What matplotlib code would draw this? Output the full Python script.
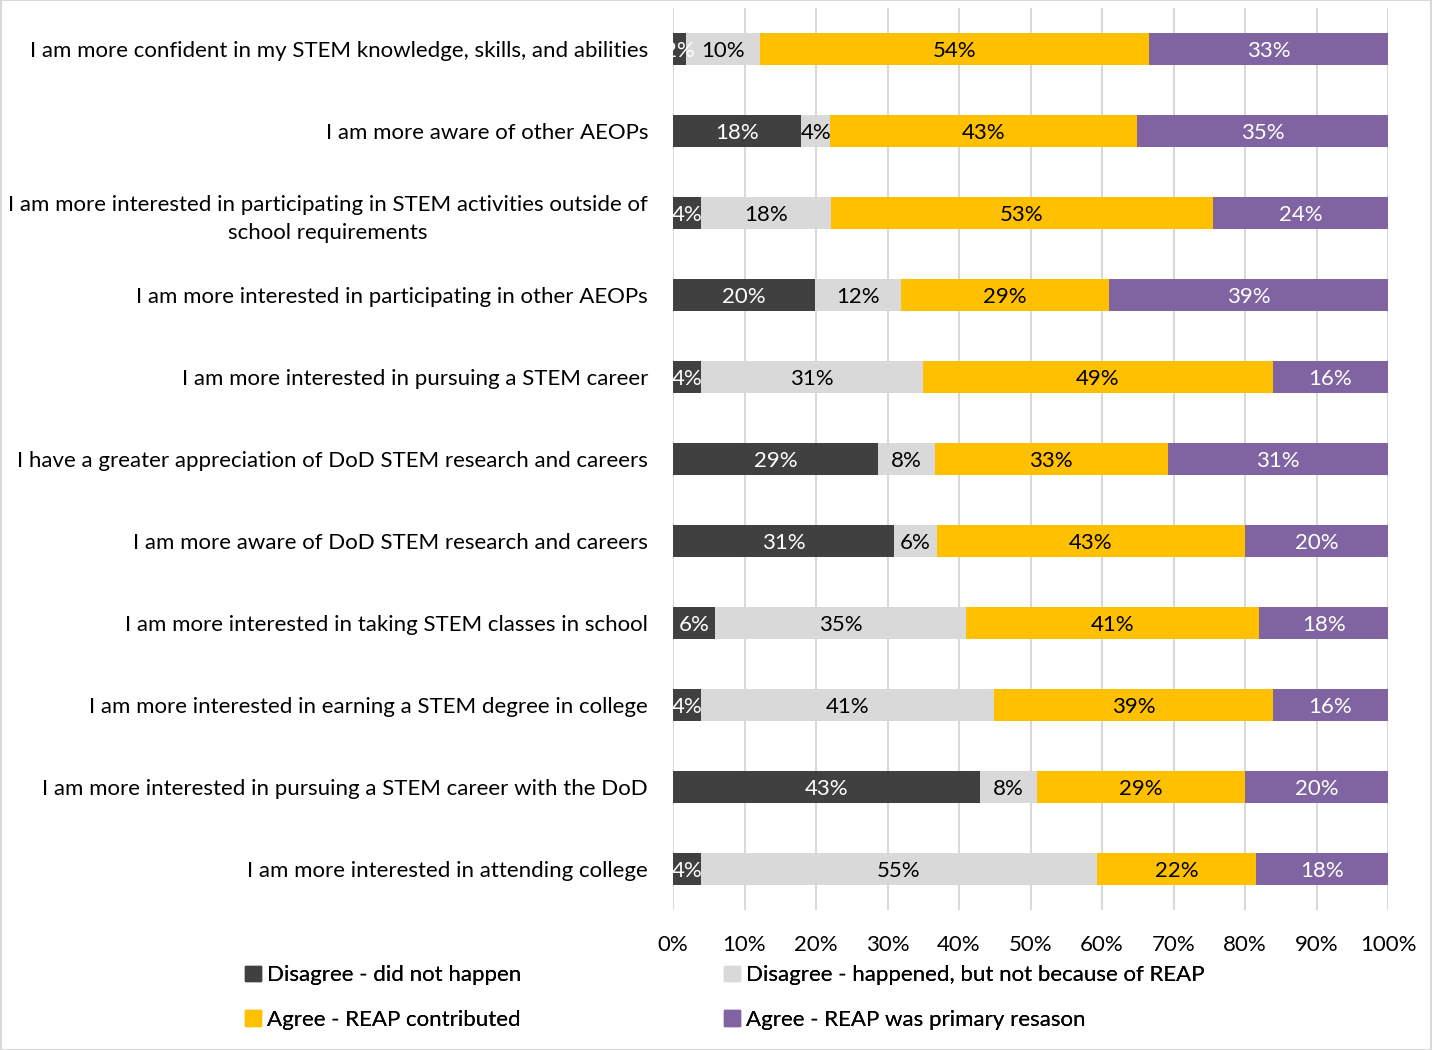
import matplotlib
matplotlib.use("Agg")
import matplotlib.pyplot as plt
from matplotlib.patches import Rectangle

plt.rcParams['font.family'] = ['Lato', 'DejaVu Sans']

categories = [
    "I am more confident in my STEM knowledge, skills, and abilities",
    "I am more aware of other AEOPs",
    "I am more interested in participating in STEM activities outside of\nschool requirements",
    "I am more interested in participating in other AEOPs",
    "I am more interested in pursuing a STEM career",
    "I have a greater appreciation of DoD STEM research and careers",
    "I am more aware of DoD STEM research and careers",
    "I am more interested in taking STEM classes in school",
    "I am more interested in earning a STEM degree in college",
    "I am more interested in pursuing a STEM career with the DoD",
    "I am more interested in attending college",
]
series_names = [
    "Disagree - did not happen",
    "Disagree - happened, but not because of REAP",
    "Agree - REAP contributed",
    "Agree - REAP was primary resason",
]
disagree_not = [1.8, 17.9, 3.9, 19.9, 3.9, 28.7, 30.9, 5.9, 3.9, 42.9, 3.9]
disagree_happened = [10.4, 4.1, 18.2, 12.0, 31.1, 7.9, 6.0, 35.1, 41.0, 8.0, 55.4]
agree_contrib = [54.4, 42.9, 53.4, 29.1, 48.9, 32.6, 43.1, 41.0, 39.0, 29.1, 22.3]
agree_primary = [33.4, 35.1, 24.5, 39.0, 16.1, 30.8, 20.0, 18.0, 16.1, 20.0, 18.4]

colors = ["#404040", "#d9d9d9", "#ffc000", "#8064a2"]
text_colors = ["white", "black", "black", "white"]
FS = 16

fig = plt.figure(figsize=(14.34, 10.5), dpi=100)
ax = fig.add_axes([673/1434, 1 - 910/1050, (1388-673)/1434, (910-8)/1050])

n = len(categories)
ys = list(range(n))
left = [0.0] * n
for vals, col, tcol in zip([disagree_not, disagree_happened, agree_contrib, agree_primary], colors, text_colors):
    ax.barh(ys, vals, left=left, color=col, height=0.39, zorder=2)
    for y, v, l in zip(ys, vals, left):
        ax.text(l + v / 2, y + 0.02, f"{round(v):d}%", ha="center", va="center",
                color=tcol, fontsize=FS, zorder=3, clip_on=False)
    left = [a + b for a, b in zip(left, vals)]

ax.set_xlim(0, 100)
ax.set_ylim(n - 0.5, -0.5)
ax.set_xticks(range(0, 101, 10))
ax.set_xticklabels([f"{t}%" for t in range(0, 101, 10)], fontsize=FS)
ax.set_yticks(ys)
ax.set_yticklabels(categories, fontsize=FS, multialignment="center", linespacing=1.5)
ax.tick_params(axis="both", length=0)
ax.tick_params(axis="x", pad=18)
ax.tick_params(axis="y", pad=18)
ax.grid(axis="x", color="#d9d9d9", linewidth=1.5, zorder=0)
for s in ax.spines.values():
    s.set_visible(False)

handles = [Rectangle((0, 0), 1, 1, color=c) for c in colors]
for cols, x0 in (([0, 2], 234), ([1, 3], 713)):
    leg = fig.legend([handles[i] for i in cols], [series_names[i] for i in cols],
                     loc="upper left", bbox_to_anchor=(x0/1434, 1 - 954/1050),
                     frameon=False, fontsize=FS, handlelength=0.7, handleheight=0.7,
                     handletextpad=0.3, labelspacing=1.12, borderpad=0)
    fig.add_artist(leg)

fig.patches.append(Rectangle((0.5/1434, 0), 1430/1434, 1, transform=fig.transFigure,
                             fill=False, edgecolor="#d9d9d9", linewidth=1.5))
fig.savefig("out.png", dpi=100)
